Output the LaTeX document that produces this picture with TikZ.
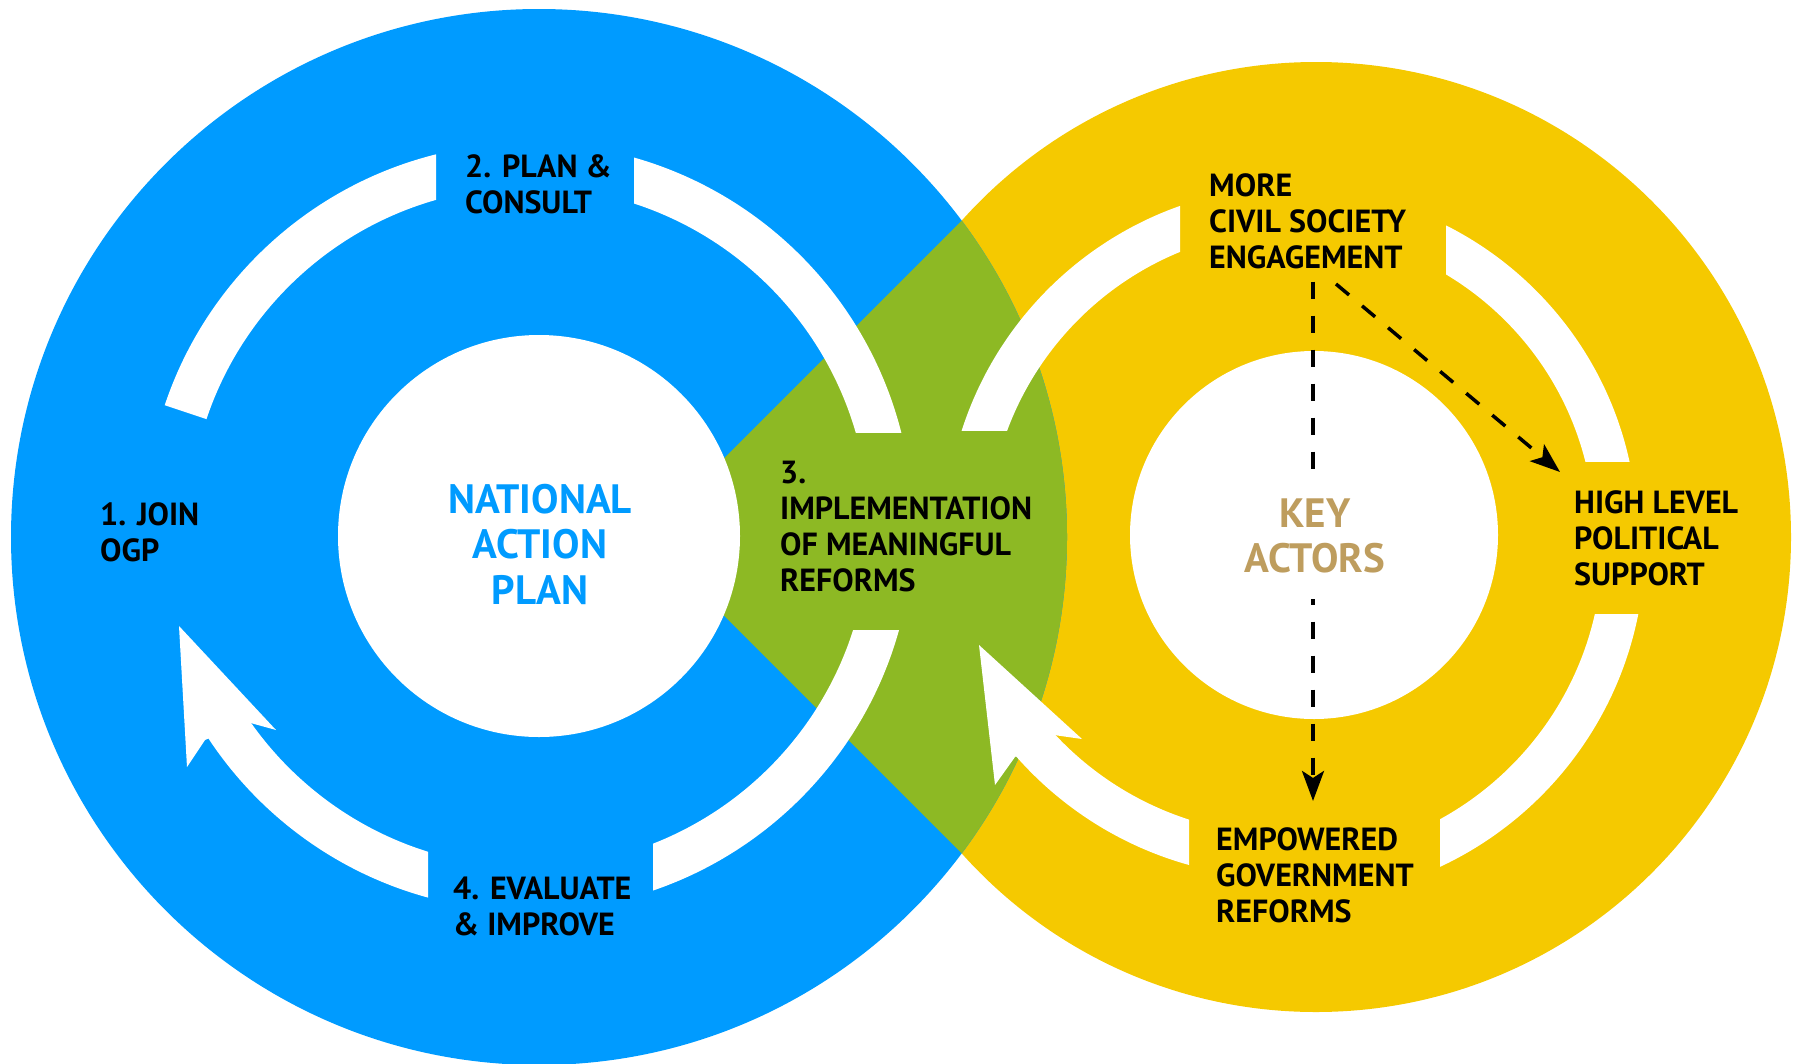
\documentclass[tikz,border=0pt]{standalone}
\usepackage{fontspec}
\usetikzlibrary{arrows.meta}
\newfontfamily\lblfont{PT Sans}
\definecolor{ogpblue}{HTML}{009BFF}
\definecolor{ogpyellow}{HTML}{F5C900}
\definecolor{ogpgreen}{HTML}{8DB924}
\definecolor{ogptan}{HTML}{BE9D5E}
\begin{document}
\begin{tikzpicture}[x=1pt,y=-1pt,
  lbl/.style={font=\lblfont\bfseries\fontsize{32}{36}\selectfont, align=left, anchor=base west, inner sep=0pt, text=black},
  core/.style={font=\lblfont\bfseries\fontsize{41}{45.5}\selectfont, align=center, inner sep=0pt},
  dasharrow/.style={line width=3.5pt, dash pattern=on 17pt off 17pt, -{Stealth[length=30pt,width=22pt,inset=7pt]}},
  band/.style={fill=white, even odd rule},
  headfill/.style={fill=white},
]
\useasboundingbox (0,0) rectangle (1802,1063);
\clip (0,0) rectangle (1802,1063);
% discs
\fill[ogpyellow] (1316,537) circle[radius=475];
\fill[ogpblue] (539,537) circle[radius=528];
\begin{scope}
  \clip (539,537) circle[radius=528];
  \fill[ogpgreen] (961.7,220.6) -- (645.3,537) -- (961.7,853.4) -- (1300,853.4) -- (1300,220.6) -- cycle;
\end{scope}
\fill[white] (539,536) circle[radius=201];
\fill[white] (1314,535) circle[radius=184];
% blue ring segments
\begin{scope}
  \clip (436,495.9) -- (-419,210) -- (-419,-200) -- (436,-200) -- cycle;
  \fill[band] (529,527) circle[radius=384] (529,527) circle[radius=340];
\end{scope}
\begin{scope}
  \clip (634,-100) rectangle (1300,432);
  \fill[band] (529,527) circle[radius=384] (529,527) circle[radius=340];
\end{scope}
\begin{scope}
  \clip (653,630) rectangle (1300,1200);
  \fill[band] (529,527) circle[radius=384] (529,527) circle[radius=340];
\end{scope}
\begin{scope}
  \clip (428,590.1) -- (-319,1057) -- (-319,1300) -- (428,1300) -- cycle;
  \fill[band] (529,527) circle[radius=384] (529,527) circle[radius=340];
\end{scope}
\fill[headfill] (205,740) -- (187,767) -- (179,626) -- (276,730) -- (247,722) -- cycle;
% yellow ring segments
\begin{scope}
  \clip (850,-100) rectangle (1180,430);
  \fill[band] (1297,538) circle[radius=352] (1297,538) circle[radius=309];
\end{scope}
\begin{scope}
  \clip (1446,-100) rectangle (1900,461);
  \fill[band] (1290,536) circle[radius=347.5] (1290,536) circle[radius=304.5];
\end{scope}
\begin{scope}
  \clip (1440,614) rectangle (1900,1200);
  \fill[band] (1290,545) circle[radius=355] (1290,545) circle[radius=312.5];
\end{scope}
\begin{scope}
  \clip (1189,600.6) -- (519,1163) -- (519,1300) -- (1189,1300) -- cycle;
  \fill[band] (1285,520) circle[radius=358] (1285,520) circle[radius=314.5];
\end{scope}
\fill[headfill] (1015,757) -- (995,785) -- (979,645) -- (1082,739) -- (1054,735) -- cycle;
% labels (anchor = baseline of the last line)
\node[lbl] (plan) at (465,213) {2. PLAN \&\\CONSULT};
\node[lbl] (join) at (100,561) {1. JOIN\\OGP};
\node[lbl] (impl) at (780,591) {3.\\IMPLEMENTATION\\OF MEANINGFUL\\REFORMS};
\node[lbl] (eval) at (453,935) {4. EVALUATE\\\& IMPROVE};
\node[lbl] (civil) at (1209,268) {MORE\\CIVIL SOCIETY\\ENGAGEMENT};
\node[lbl] (high) at (1574,585) {HIGH LEVEL\\POLITICAL\\SUPPORT};
\node[lbl] (emp) at (1216,922) {EMPOWERED\\GOVERNMENT\\REFORMS};
\node[core, text=ogpblue] (nap) at (540,544) {NATIONAL\\ACTION\\PLAN};
% connectors
\coordinate (keyc) at (1313,535);
\coordinate (dstart) at (1336,284);
\coordinate (dend) at (1560,472);
\draw[dasharrow, shorten <=13pt, shorten >=26pt] (civil.south -| keyc) -- (emp.north -| keyc);
\draw[dasharrow] (dstart) -- (dend);
\node[core, text=ogptan, fill=white, inner xsep=6pt, inner ysep=26pt] (key) at (1315,536) {KEY\\ACTORS};
\end{tikzpicture}
\end{document}
